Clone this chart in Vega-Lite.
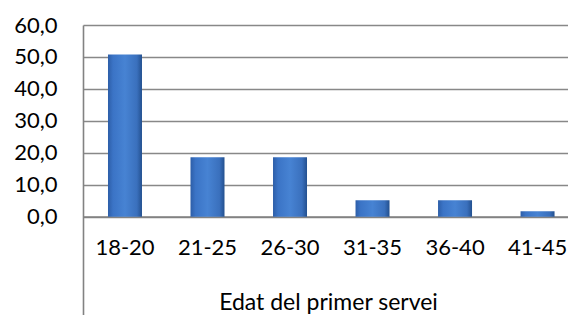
{
  "$schema": "https://vega.github.io/schema/vega-lite/v6.json",
  "width": 485,
  "height": 290,
  "autosize": {"type": "none"},
  "padding": {"left": 83, "top": 25, "right": 0, "bottom": 0},
  "background": "white",
  "data": {
    "values": [
      {"edat": "18-20", "pct": 50.8},
      {"edat": "21-25", "pct": 18.6},
      {"edat": "26-30", "pct": 18.6},
      {"edat": "31-35", "pct": 5.1},
      {"edat": "36-40", "pct": 5.1},
      {"edat": "41-45", "pct": 1.7}
    ]
  },
  "mark": {
    "type": "bar",
    "clip": false,
    "fill": {
      "gradient": "linear",
      "x1": 0, "x2": 1, "y1": 0, "y2": 0,
      "stops": [
        {"offset": 0, "color": "#2d5ea8"},
        {"offset": 0.15, "color": "#3b74c6"},
        {"offset": 0.5, "color": "#4783d3"},
        {"offset": 0.85, "color": "#3a70bd"},
        {"offset": 1, "color": "#23508f"}
      ]
    }
  },
  "encoding": {
    "x": {
      "field": "edat",
      "type": "nominal",
      "sort": null,
      "scale": {"paddingInner": 0.588, "paddingOuter": 0.233, "align": 0.65},
      "axis": {
        "title": "Edat del primer servei",
        "offset": -98.4,
        "titleFont": "Lato",
        "titleFontSize": 23,
        "titleFontWeight": "normal",
        "titleColor": "#000000",
        "titleBaseline": "alphabetic",
        "titleY": 92.5,
        "titleX": 245,
        "labelAngle": 0,
        "labelFont": "Lato",
        "labelFontSize": 22,
        "labelColor": "#000000",
        "labelPadding": 21,
        "ticks": false,
        "domainColor": "#828282",
        "domainWidth": 1.6,
        "grid": false
      }
    },
    "y": {
      "field": "pct",
      "type": "quantitative",
      "scale": {"domain": [-30.8, 60], "nice": false, "zero": false},
      "axis": {
        "title": null,
        "values": [0, 10, 20, 30, 40, 50, 60],
        "labelExpr": "replace(format(datum.value, '.1f'), '.', ',')",
        "labelFont": "Lato",
        "labelFontSize": 22,
        "labelColor": "#000000",
        "labelPadding": 26,
        "ticks": false,
        "domainColor": "#828282",
        "domainWidth": 1.6,
        "gridColor": "#888888",
        "gridWidth": 1.6
      }
    }
  },
  "config": {"view": {"stroke": null}}
}
